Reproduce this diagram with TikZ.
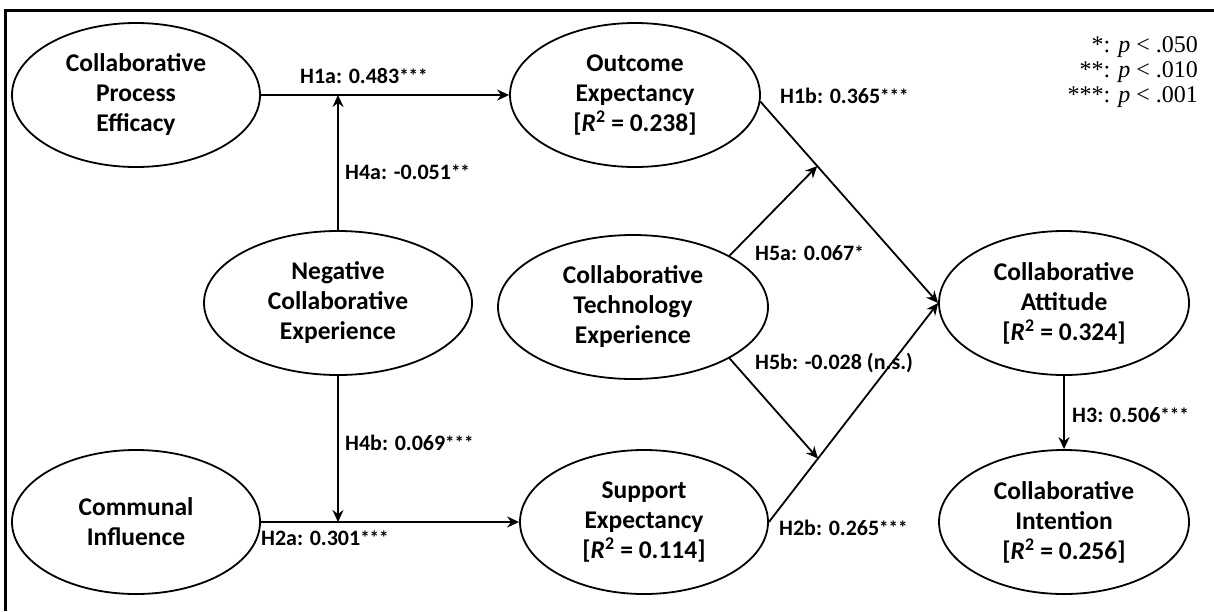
\documentclass[tikz,border=0pt]{standalone}
\usepackage{fontspec}
\setmainfont{Carlito}
\newfontfamily\legfont{Liberation Serif}
\usetikzlibrary{shapes.geometric,arrows.meta,calc}
\newcommand\sigstars[1]{\raisebox{1pt}{\fontsize{19}{19}\selectfont #1}}
\begin{document}
\begin{tikzpicture}[x=1pt,y=-1pt,
  latent/.style={draw,line width=1.8pt,ellipse,inner sep=0pt,minimum height=144pt,align=center,
    font=\fontsize{25.5}{30}\selectfont\bfseries},
  conn/.style={line width=1.8pt,-{Stealth[length=12pt,width=11pt,inset=4pt]}},
  lab/.style={font=\fontsize{22}{24}\selectfont\bfseries,inner sep=0pt,anchor=west},
  frame/.style={line width=3.5pt}
]
\useasboundingbox (0,0) rectangle (1214,611);
\coordinate (fa) at (5.5,611);
\coordinate (fb) at (5.5,10.5);
\coordinate (fc) at (1214,10.5);
\draw[frame] (fa) -- (fb) -- (fc);

\node[latent,minimum width=248pt] (cpe) at (136,95) {Collaborative\\Process\\Efficacy};
\node[latent,minimum width=250pt] (oe) at (635,95) {Outcome\\Expectancy\\{}[\textit{R}\textsuperscript{2} = 0.238]};
\node[latent,minimum width=268pt] (nce) at (338,303) {Negative\\Collaborative\\Experience};
\node[latent,minimum width=270pt] (cte) at (633,307) {Collaborative\\Technology\\Experience};
\node[latent,minimum width=250pt] (ca) at (1064,303) {Collaborative\\Attitude\\{}[\textit{R}\textsuperscript{2} = 0.324]};
\node[latent,minimum width=248pt] (ci) at (136,522) {Communal\\Influence};
\node[latent,minimum width=248pt] (se) at (644,522) {Support\\Expectancy\\{}[\textit{R}\textsuperscript{2} = 0.114]};
\node[latent,minimum width=250pt] (cin) at (1064,522) {Collaborative\\Intention\\{}[\textit{R}\textsuperscript{2} = 0.256]};

\coordinate (j1) at (338,95);
\coordinate (j2) at (338,522);
\coordinate (j3) at ($(oe.-3)!0.32!(ca.west)$);
\coordinate (j4) at ($(se.east)!0.29!(ca.west)$);

\draw[conn] (cpe.east) -- (oe.west);
\draw[conn] (nce.north) -- (j1);
\draw[conn] (nce.south) -- (j2);
\draw[conn] (ci.east) -- (se.west);
\draw[conn] (oe.-3) -- (ca.west);
\draw[conn] (se.east) -- (ca.west);
\draw[conn] (cte.28) -- (j3);
\draw[conn] (cte.-28) -- (j4);
\draw[conn] (ca.south) -- (cin.north);

\node[lab] (l1a) at (300,76) {H1a: 0.483\sigstars{***}};
\node[lab] (l4a) at (345,172) {H4a: -0.051\sigstars{**}};
\node[lab] (l4b) at (345,443) {H4b: 0.069\sigstars{***}};
\node[lab] (l2a) at (261,538) {H2a: 0.301\sigstars{***}};
\node[lab] (l1b) at (780,96) {H1b: 0.365\sigstars{***}};
\node[lab] (l5a) at (755,253) {H5a: 0.067\sigstars{*}};
\node[lab] (l5b) at (755,363) {H5b: -0.028 (n.s.)};
\node[lab] (l2b) at (779,528) {H2b: 0.265\sigstars{***}};
\node[lab] (l3) at (1072,415) {H3: 0.506\sigstars{***}};

\node[anchor=north east,align=right,inner sep=0pt,font=\legfont\fontsize{24}{25}\selectfont] (leg) at (1198,36)
  {*: \textit{p} < .050\\**: \textit{p} < .010\\***: \textit{p} < .001};
\end{tikzpicture}
\end{document}
